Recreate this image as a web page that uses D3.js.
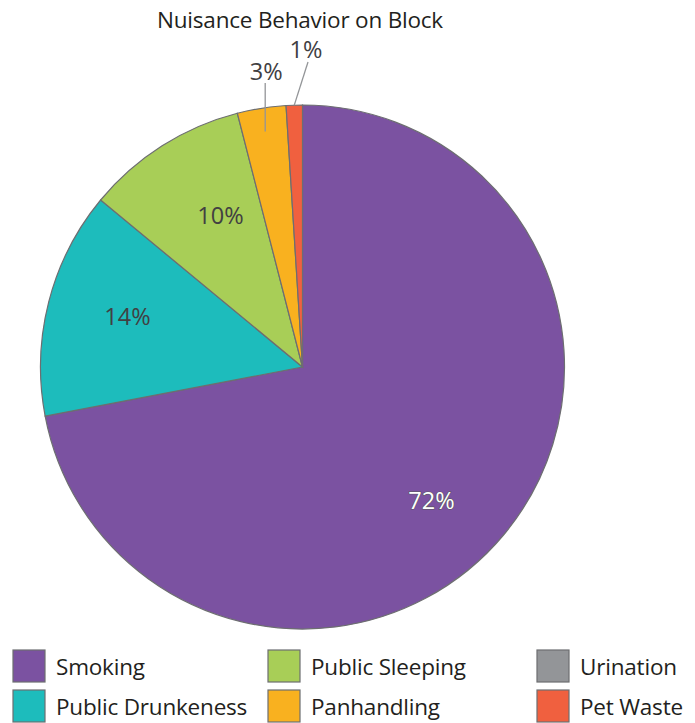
<!DOCTYPE html>
<html><head><meta charset="utf-8">
<script src="https://cdn.jsdelivr.net/npm/d3@7"></script>
<style>body{margin:0;background:#fff;} svg{display:block;}</style>
</head><body>
<svg id="chart" width="695" height="723"></svg>
<script>
const categories = ["Smoking","Public Drunkeness","Public Sleeping","Panhandling","Urination","Pet Waste"];
const values = [72,14,10,3,0,1];
const labels = ["72%","14%","10%","3%","","1%"];
const colors = ["#7b52a1","#1dbcbc","#a8ce57","#f9b11f","#939598","#f0603f"];

const svg = d3.select("#chart");
const font = "'Open Sans', sans-serif";
const cx = 302.5, cy = 367, r = 262;

svg.append("text").attr("x",300).attr("y",28).attr("text-anchor","middle")
  .attr("font-family",font).attr("font-size",22.5).attr("fill","#231f20")
  .attr("letter-spacing",-0.2)
  .text("Nuisance Behavior on Block");

const data = categories.map((c,i)=>({cat:c,value:values[i],label:labels[i],color:colors[i]}));
const pie = d3.pie().sort(null).value(d=>d.value).startAngle(0).endAngle(2*Math.PI);
const arcs = pie(data);
const arc = d3.arc().innerRadius(0).outerRadius(r);
const g = svg.append("g").attr("transform",`translate(${cx},${cy})`);
g.selectAll("path").data(arcs.filter(a=>a.data.value>0)).enter().append("path")
  .attr("d",arc).attr("fill",d=>d.data.color)
  .attr("stroke","#6d6e71").attr("stroke-width",1.2);

const byCat = {}; arcs.forEach(a=>byCat[a.data.cat]=a);
function pos(a, rad){ const m=(a.startAngle+a.endAngle)/2; return [Math.sin(m)*rad, -Math.cos(m)*rad]; }

const lblSize = 23.5;
{
  const a = byCat["Smoking"];
  svg.append("text").attr("x",cx+129).attr("y",cy+142).attr("text-anchor","middle")
    .attr("font-family",font).attr("font-size",lblSize).attr("fill","#fff")
    .attr("stroke","#58595b").attr("stroke-width",1.2).attr("paint-order","stroke")
    .text(a.data.label);
}
{
  const a = byCat["Public Drunkeness"];
  svg.append("text").attr("x",cx-175).attr("y",cy-42).attr("text-anchor","middle")
    .attr("font-family",font).attr("font-size",lblSize).attr("fill","#414042").text(a.data.label);
}
{
  const a = byCat["Public Sleeping"];
  svg.append("text").attr("x",cx-82).attr("y",cy-143).attr("text-anchor","middle")
    .attr("font-family",font).attr("font-size",lblSize).attr("fill","#414042").text(a.data.label);
}
{
  const a = byCat["Panhandling"];
  const p = pos(a, r*0.91);
  svg.append("line").attr("x1",cx+p[0]).attr("y1",cy+p[1]).attr("x2",cx+p[0]).attr("y2",83)
    .attr("stroke","#939598").attr("stroke-width",1.3);
  svg.append("text").attr("x",cx+p[0]+1).attr("y",80).attr("text-anchor","middle")
    .attr("font-family",font).attr("font-size",lblSize).attr("fill","#414042").text(a.data.label);
}
{
  const a = byCat["Pet Waste"];
  const p = pos(a, r);
  svg.append("line").attr("x1",cx+p[0]).attr("y1",cy+p[1]).attr("x2",308).attr("y2",62)
    .attr("stroke","#939598").attr("stroke-width",1.3);
  svg.append("text").attr("x",306).attr("y",58).attr("text-anchor","middle")
    .attr("font-family",font).attr("font-size",lblSize).attr("fill","#414042").text(a.data.label);
}

const legCols = [13, 268, 537];
const legRows = [650, 690];
const legendOrder = ["Smoking","Public Drunkeness","Public Sleeping","Panhandling","Urination","Pet Waste"];
const lg = svg.append("g");
legendOrder.forEach((c,i)=>{
  const d = data.find(x=>x.cat===c);
  const col = Math.floor(i/2), row = i%2;
  const x = legCols[col], y = legRows[row];
  lg.append("rect").attr("x",x).attr("y",y).attr("width",32).attr("height",32)
    .attr("fill",d.color).attr("stroke","#6d6e71").attr("stroke-width",1.2);
  lg.append("text").attr("x",x+43).attr("y",y+25)
    .attr("font-family",font).attr("font-size",22.5).attr("letter-spacing",-0.2)
    .attr("fill","#231f20").text(c);
});
</script>
</body></html>
